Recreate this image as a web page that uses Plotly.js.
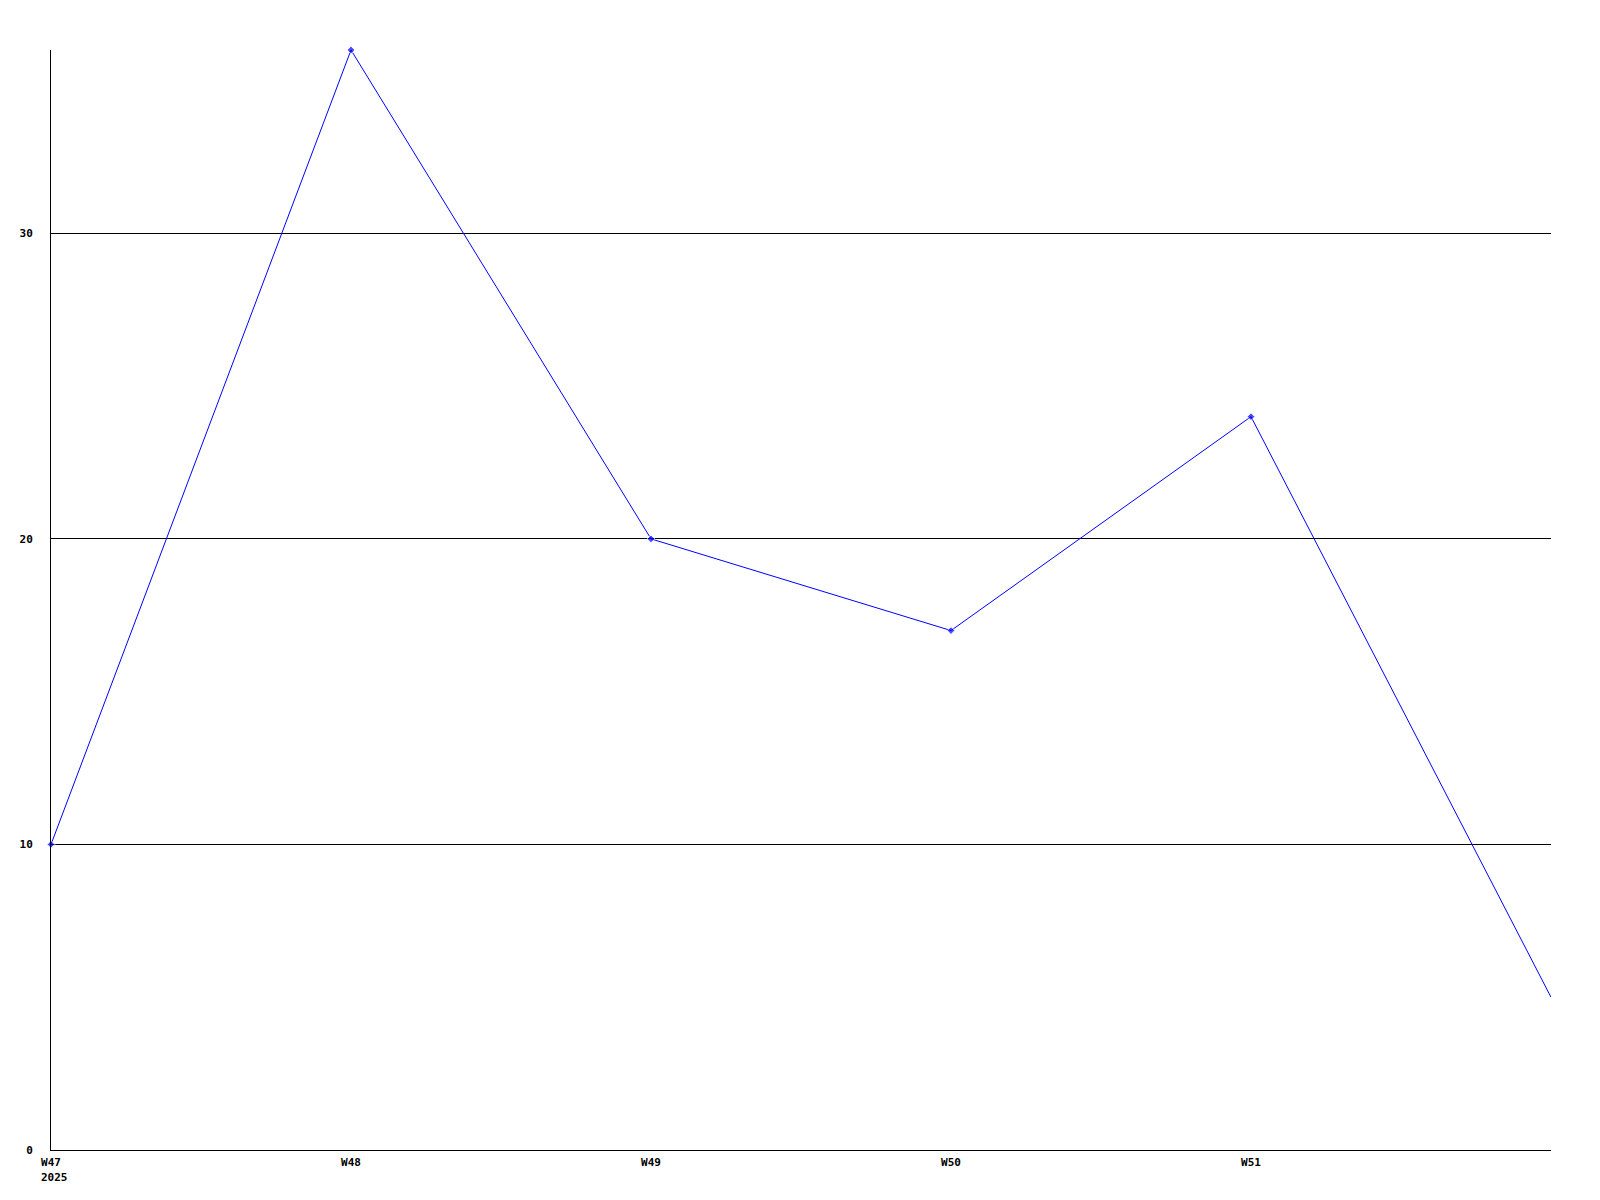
<!DOCTYPE html>
<html>
<head>
<meta charset="utf-8">
<script src="https://cdn.plot.ly/plotly-3.0.1.min.js"></script>
<style>html,body{margin:0;padding:0;background:#fff}#chart{width:1600px;height:1200px}</style>
</head>
<body>
<div id="chart"></div>
<script>
var weeks = ['W47', 'W48', 'W49', 'W50', 'W51', 'W52'];
var values = [10, 36, 20, 17, 24, 5];
var tickWeeks = ['W47', 'W48', 'W49', 'W50', 'W51'];
var yearLabel = '2025';
var yTicks = [0, 10, 20, 30];

var markerSizes = weeks.map(function (w) { return tickWeeks.indexOf(w) >= 0 ? 6 : 0; });

var font = {family: '"DejaVu Sans Mono", "Liberation Mono", monospace', size: 11, color: '#000'};

var trace = {
  x: weeks,
  y: values,
  type: 'scatter',
  mode: 'lines+markers',
  cliponaxis: false,
  line: {color: '#0000ff', width: 1},
  marker: {color: '#0000ff', symbol: 'diamond', size: markerSizes},
  hoverinfo: 'skip'
};

var layout = {
  width: 1600,
  height: 1200,
  margin: {l: 51, r: 49, t: 50, b: 50},
  paper_bgcolor: '#fff',
  plot_bgcolor: '#fff',
  showlegend: false,
  font: font,
  xaxis: {
    type: 'category',
    range: [0, weeks.length - 1],
    tickmode: 'array',
    tickvals: tickWeeks,
    ticktext: tickWeeks,
    showgrid: false,
    zeroline: false,
    showline: true,
    linecolor: '#000',
    linewidth: 1,
    ticks: '',
    ticklabelstandoff: 2,
    tickfont: {family: font.family, size: 11, color: '#000', weight: 'bold'}
  },
  yaxis: {
    range: [0, 36],
    tickmode: 'array',
    tickvals: yTicks,
    ticktext: yTicks.map(String),
    showgrid: true,
    gridcolor: '#000',
    gridwidth: 1,
    zeroline: false,
    showline: true,
    linecolor: '#000',
    linewidth: 1,
    ticks: '',
    ticklabelstandoff: 15,
    tickfont: {family: font.family, size: 11, color: '#000', weight: 'bold'}
  },
  annotations: [{
    x: 0, xref: 'paper', y: 0, yref: 'paper',
    text: yearLabel,
    showarrow: false,
    xanchor: 'left', yanchor: 'top',
    xshift: -12, yshift: -19,
    font: {family: font.family, size: 11, color: '#000', weight: 'bold'}
  }]
};

Plotly.newPlot('chart', [trace], layout, {staticPlot: true, displayModeBar: false});
</script>
</body>
</html>
